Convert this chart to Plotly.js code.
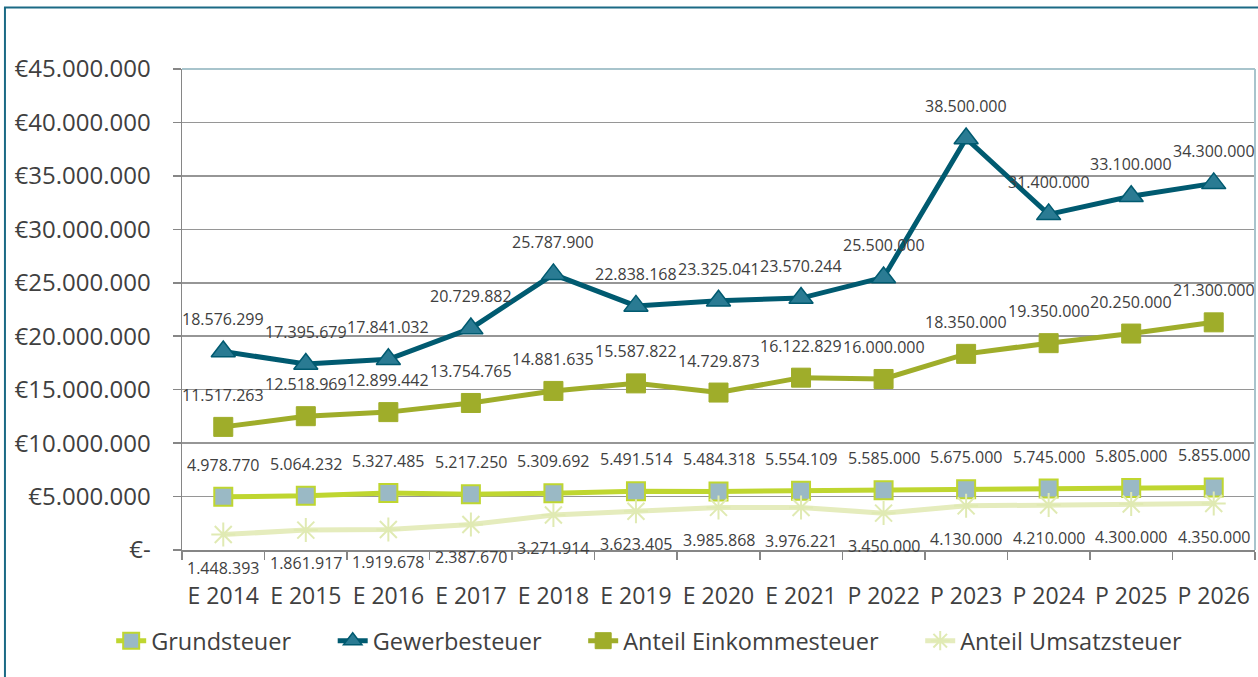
<!DOCTYPE html>
<html>
<head>
<meta charset="utf-8">
<script src="https://cdn.plot.ly/plotly-3.0.1.min.js"></script>
<style>
html,body{margin:0;padding:0;background:#fff;}
#chart{width:1258px;height:677px;}
</style>
</head>
<body>
<div id="chart"></div>
<script>
const categories = ["E 2014","E 2015","E 2016","E 2017","E 2018","E 2019","E 2020","E 2021","P 2022","P 2023","P 2024","P 2025","P 2026"];
const seriesNames = ["Grundsteuer","Gewerbesteuer","Anteil Einkommesteuer","Anteil Umsatzsteuer"];
const grundsteuer = [4978770,5064232,5327485,5217250,5309692,5491514,5484318,5554109,5585000,5675000,5745000,5805000,5855000];
const gewerbesteuer = [18576299,17395679,17841032,20729882,25787900,22838168,23325041,23570244,25500000,38500000,31400000,33100000,34300000];
const einkommensteuer = [11517263,12518969,12899442,13754765,14881635,15587822,14729873,16122829,16000000,18350000,19350000,20250000,21300000];
const umsatzsteuer = [1448393,1861917,1919678,2387670,3271914,3623405,3985868,3976221,3450000,4130000,4210000,4300000,4350000];
const yTickVals = [0,5000000,10000000,15000000,20000000,25000000,30000000,35000000,40000000,45000000];

function fmt(v){ return Math.round(v).toString().replace(/\B(?=(\d{3})+(?!\d))/g, "."); }
const yTickText = yTickVals.map(v => v === 0 ? "€-" : "€" + fmt(v));
const pad = "\u00a0\u00a0\u00a0\u00a0\u00a0\u00a0";

const traces = [
  {name:seriesNames[0] + pad, x:categories, y:grundsteuer, type:"scatter", mode:"lines+markers",
   line:{color:"#bfd630", width:5}, marker:{symbol:"square", size:18, color:"#9ab9c5", line:{color:"#bfd630", width:2}}},
  {name:seriesNames[1] + pad, x:categories, y:gewerbesteuer, type:"scatter", mode:"lines+markers",
   line:{color:"#005a70", width:5}, marker:{symbol:"triangle-up", size:21, color:"#2a7b93", line:{color:"#005a70", width:1.5}}},
  {name:seriesNames[2] + pad, x:categories, y:einkommensteuer, type:"scatter", mode:"lines+markers",
   line:{color:"#9fad2a", width:5}, marker:{symbol:"square", size:19, color:"#9fad2a", line:{color:"#9fad2a", width:1}}},
  {name:seriesNames[3], x:categories, y:umsatzsteuer, type:"scatter", mode:"lines+markers",
   line:{color:"#e5ecbd", width:5}, marker:{symbol:"asterisk-open", size:20, color:"#e0eab3", line:{color:"#e0eab3", width:2}}}
];

const annotations = [];
function addLabels(vals, shift){
  vals.forEach((v,i) => annotations.push({x:categories[i], y:v, xref:"x", yref:"y", text:fmt(v), showarrow:false,
    yshift:shift, font:{family:"Open Sans", size:16, color:"#404040"}, xanchor:"center", yanchor:"middle"}));
}
addLabels(grundsteuer, 32);
addLabels(gewerbesteuer, 32);
addLabels(einkommensteuer, 32);
addLabels(umsatzsteuer, -33);

const layout = {
  width:1258, height:677,
  margin:{l:182, r:3, t:69, b:127},
  paper_bgcolor:"#ffffff", plot_bgcolor:"#ffffff",
  font:{family:"Open Sans", color:"#404040"},
  showlegend:true,
  legend:{orientation:"h", x:-0.066, xanchor:"left", y:-0.189, yanchor:"middle",
    font:{family:"Open Sans", size:23.5, color:"#404040"}, traceorder:"normal"},
  xaxis:{type:"category", tickson:"boundaries", ticks:"outside", ticklen:8, tickcolor:"#868686", tickwidth:1.5,
    showline:true, linecolor:"#868686", linewidth:1.5, showgrid:false, zeroline:false, tickangle:0,
    tickfont:{family:"Open Sans", size:23, color:"#404040"}, range:[-0.5,12.5], ticklabelstandoff:25},
  yaxis:{range:[0,45000000], tickvals:yTickVals, ticktext:yTickText, ticks:"outside", ticklen:8, tickcolor:"#868686", tickwidth:1.5,
    showline:true, linecolor:"#868686", linewidth:1.5, showgrid:true, gridcolor:"#969696", gridwidth:1.5, zeroline:false,
    tickfont:{family:"Open Sans", size:24, color:"#404040"}, ticklabelstandoff:17},
  annotations:annotations,
  shapes:[
    {type:"line", xref:"paper", yref:"paper", x0:0, x1:1, y0:1, y1:1, line:{color:"#a8c4cc", width:2}},
    {type:"line", xref:"paper", yref:"paper", x0:1, x1:1, y0:0, y1:1, line:{color:"#a8c4cc", width:2}},
    {type:"rect", xref:"paper", yref:"paper", x0:-0.165, x1:1.01, y0:-0.3, y1:1.128, line:{color:"#1b6a85", width:2}, fillcolor:"rgba(0,0,0,0)", layer:"below"}
  ]
};

Plotly.newPlot("chart", traces, layout, {staticPlot:true, displayModeBar:false});
</script>
</body>
</html>
